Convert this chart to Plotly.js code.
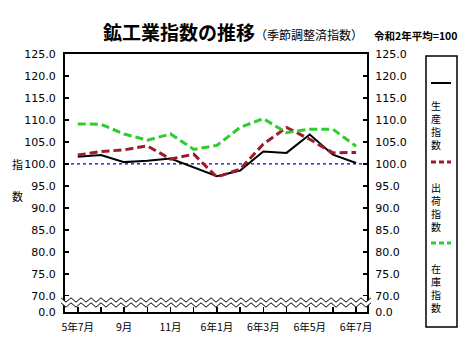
<!DOCTYPE html>
<html>
<head>
<meta charset="utf-8">
<script src="https://cdn.plot.ly/plotly-3.0.1.min.js"></script>
<style>
html,body{margin:0;padding:0;background:#fff;}
#chart{width:472px;height:357px;}
</style>
</head>
<body>
<div id="chart"></div>
<script>
// ---- data ----
var monthIndex = [0,1,2,3,4,5,6,7,8,9,10,11,12];
var monthLabels = ['5年7月','','9月','','11月','','6年1月','','6年3月','','6年5月','','6年7月'];
var production = [101.6, 102.0, 100.4, 100.7, 101.2, 99.2, 97.2, 98.5, 102.8, 102.5, 106.7, 102.1, 100.2];
var shipments  = [102.0, 102.8, 103.2, 104.1, 101.1, 102.2, 97.0, 98.8, 104.5, 108.3, 105.6, 102.5, 102.6];
var inventory  = [109.1, 109.0, 106.8, 105.4, 106.8, 103.3, 104.2, 108.3, 110.3, 107.1, 107.9, 107.9, 104.0];
var yTickVals = [66.3, 70, 75, 80, 85, 90, 95, 100, 105, 110, 115, 120, 125];
var yTickText = ['0.0','70.0','75.0','80.0','85.0','90.0','95.0','100.0','105.0','110.0','115.0','120.0','125.0'];
var seriesNames = ['生産指数','出荷指数','在庫指数'];
var baseValue = 100;

// ---- layout geometry (pixels) ----
var W = 472, H = 357;
var L = 65, R = 367, T = 54, B = 312;
function px(x){ return (x - L) / (R - L); }
function py(y){ return (B - y) / (B - T); }

var numFont = '"DejaVu Sans", sans-serif';
var cjkFont = '"Noto Sans CJK JP", "Noto Sans", sans-serif';

var colors = ['#000000', '#9e1a2c', '#2ecc2e'];

var traces = [
  {x: monthIndex, y: production, type: 'scatter', mode: 'lines', name: seriesNames[0],
   line: {color: colors[0], width: 2}, hoverinfo: 'skip'},
  {x: monthIndex, y: shipments, type: 'scatter', mode: 'lines', name: seriesNames[1],
   line: {color: colors[1], width: 3, dash: '8px,4px'}, hoverinfo: 'skip'},
  {x: monthIndex, y: inventory, type: 'scatter', mode: 'lines', name: seriesNames[2],
   line: {color: colors[2], width: 3, dash: '8px,4px'}, hoverinfo: 'skip'},
  {x: monthIndex, y: production, type: 'scatter', mode: 'lines', yaxis: 'y2',
   line: {color: 'rgba(0,0,0,0)', width: 0}, hoverinfo: 'skip', showlegend: false}
];

// zigzag axis-break band
function wavePts(yc, amp, x0, x1, period){
  var pts = [];
  var n = Math.round((x1 - x0) / (period / 2));
  for (var i = 0; i <= n; i++){
    var x = x0 + i * period / 2;
    var y = yc + (i % 2 === 0 ? -amp : amp);
    pts.push([px(x), py(y)]);
  }
  return pts;
}
var wx0 = 61, wx1 = 371, per = 10;
var up = wavePts(300, 2.2, wx0, wx1, per);
var lo = wavePts(305, 2.2, wx0, wx1, per);
function toPath(pts){ return pts.map(function(p, i){ return (i ? 'L' : 'M') + p[0] + ',' + p[1]; }).join(' '); }
var fillPath = toPath(up) + ' ' + lo.slice().reverse().map(function(p){ return 'L' + p[0] + ',' + p[1]; }).join(' ') + ' Z';

var shapes = [
  {type: 'line', xref: 'paper', yref: 'y', x0: 0, x1: 1, y0: baseValue, y1: baseValue,
   line: {color: '#0000c0', width: 1.2, dash: 'dot'}, layer: 'below'},
  {type: 'path', xref: 'paper', yref: 'paper', path: fillPath, fillcolor: '#ffffff', line: {width: 0}, layer: 'above'},
  {type: 'path', xref: 'paper', yref: 'paper', path: toPath(up), line: {color: '#000', width: 1}, layer: 'above'},
  {type: 'path', xref: 'paper', yref: 'paper', path: toPath(lo), line: {color: '#000', width: 1}, layer: 'above'},
  // legend box
  {type: 'rect', xref: 'paper', yref: 'paper', x0: px(426), x1: px(457), y0: py(327), y1: py(56),
   line: {color: '#000', width: 1.5}, fillcolor: 'rgba(0,0,0,0)', layer: 'above'},
  {type: 'line', xref: 'paper', yref: 'paper', x0: px(431), x1: px(451), y0: py(83), y1: py(83),
   line: {color: colors[0], width: 2}},
  {type: 'line', xref: 'paper', yref: 'paper', x0: px(431), x1: px(451), y0: py(162), y1: py(162),
   line: {color: colors[1], width: 3, dash: '5px,3px'}},
  {type: 'line', xref: 'paper', yref: 'paper', x0: px(431), x1: px(451), y0: py(243), y1: py(243),
   line: {color: colors[2], width: 3, dash: '5px,3px'}}
];

var annotations = [
  {xref: 'paper', yref: 'paper', x: px(415), y: py(35), text: '<b>令和2年平均=100</b>', showarrow: false,
   xanchor: 'center', yanchor: 'middle', font: {family: cjkFont, size: 10.5, color: '#000'}},
  {xref: 'paper', yref: 'paper', x: px(17), y: py(164), text: '指', showarrow: false,
   xanchor: 'center', yanchor: 'middle', font: {family: cjkFont, size: 11, color: '#000'}},
  {xref: 'paper', yref: 'paper', x: px(17), y: py(196), text: '数', showarrow: false,
   xanchor: 'center', yanchor: 'middle', font: {family: cjkFont, size: 11, color: '#000'}}
];
var legendTops = [96, 178, 259];
seriesNames.forEach(function(name, s){
  annotations.push({xref: 'paper', yref: 'paper', x: px(436), y: py(legendTops[s]),
    text: name.split('').join('<br>'), showarrow: false, xanchor: 'center', yanchor: 'top',
    align: 'center', font: {family: cjkFont, size: 10, color: '#000'}});
});

var yCommon = {
  range: [66.3, 125], tickmode: 'array', tickvals: yTickVals, ticktext: yTickText,
  ticks: 'inside', ticklen: 4, tickwidth: 1.5, tickcolor: '#000',
  showline: true, linecolor: '#000', linewidth: 2, showgrid: false, zeroline: false,
  tickfont: {family: numFont, size: 11, color: '#000', stretch: 'condensed'}, fixedrange: true
};

var layout = {
  width: W, height: H,
  margin: {l: L, r: W - R, t: T, b: H - B, pad: 0},
  paper_bgcolor: '#fff', plot_bgcolor: '#fff',
  showlegend: false,
  title: {
    text: '<b>鉱工業指数の推移</b><span style="font-size:12px;font-weight:normal">（季節調整済指数）</span>',
    xref: 'container', yref: 'container', x: 233 / W, y: 1 - 33 / H, xanchor: 'center', yanchor: 'middle',
    font: {family: cjkFont, size: 19, color: '#000'}
  },
  xaxis: {
    range: [-0.55, 12.47], tickmode: 'array', tickvals: monthIndex, ticktext: monthLabels,
    ticks: 'inside', ticklen: 5, tickwidth: 1.5, tickcolor: '#000',
    showline: true, linecolor: '#000', linewidth: 2, mirror: true, showgrid: false, zeroline: false,
    tickfont: {family: cjkFont, size: 10.5, color: '#000'}, ticklabelstandoff: 4, fixedrange: true
  },
  yaxis: Object.assign({}, yCommon, {side: 'left', ticklabelstandoff: 5}),
  yaxis2: Object.assign({}, yCommon, {side: 'right', overlaying: 'y', anchor: 'x', ticklabelstandoff: 4}),
  shapes: shapes,
  annotations: annotations
};

Plotly.newPlot('chart', traces, layout, {staticPlot: true, displayModeBar: false});
</script>
</body>
</html>
